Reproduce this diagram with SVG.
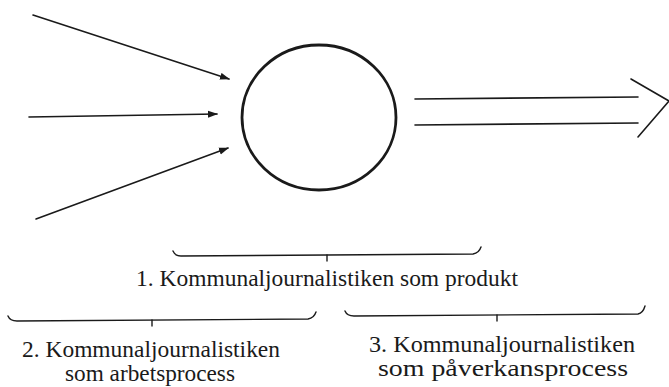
<svg xmlns="http://www.w3.org/2000/svg" width="669" height="387" viewBox="0 0 669 387">
<style>
.ln{fill:none;stroke:#1a1a1a;stroke-width:1.6;stroke-linecap:round;stroke-linejoin:round}
.br{fill:none;stroke:#1a1a1a;stroke-width:1.4;stroke-linecap:round}
.t{font-family:"Liberation Serif","Times New Roman",serif;font-size:23px;fill:#1a1a1a;text-anchor:middle}
</style>
<defs>
<marker id="ah" markerWidth="10" markerHeight="8" refX="9" refY="4" orient="auto" markerUnits="userSpaceOnUse">
<path d="M0,0.5 L10,4 L0,7.5 z" fill="#1a1a1a"/>
</marker>
</defs>
<rect width="669" height="387" fill="#ffffff"/>
<g id="connectors">
<line class="ln" x1="33" y1="15" x2="229" y2="79" marker-end="url(#ah)"/>
<line class="ln" x1="29" y1="117" x2="217" y2="114" marker-end="url(#ah)"/>
<line class="ln" x1="36" y1="219" x2="228" y2="148" marker-end="url(#ah)"/>
<line class="ln" x1="415" y1="99" x2="638" y2="97"/>
<line class="ln" x1="415" y1="125" x2="638" y2="123"/>
<polyline class="ln" points="631,79 669,101 638,137"/>
</g>
<g id="process">
<ellipse cx="319" cy="117.5" rx="77" ry="72.5" fill="none" stroke="#1a1a1a" stroke-width="2.8"/>
</g>
<g id="produkt">
<path class="br" d="M173,251 Q175,256 181,256 L473,254 Q479,253 481,247"/>
<path class="br" d="M327,255 L327,261"/>
<text class="t" x="327" y="286" textLength="382" lengthAdjust="spacingAndGlyphs">1. Kommunaljournalistiken som produkt</text>
</g>
<g id="arbetsprocess">
<path class="br" d="M8,316 Q10,321 17,321 L308,319 Q314,318 316,312"/>
<path class="br" d="M152,320 L152,326"/>
<text class="t" x="151" y="357" textLength="258" lengthAdjust="spacingAndGlyphs">2. Kommunaljournalistiken</text>
<text class="t" x="150" y="381" textLength="170" lengthAdjust="spacingAndGlyphs">som arbetsprocess</text>
</g>
<g id="paverkansprocess">
<path class="br" d="M345,311 Q347,316 354,316 L638,314 Q643,313 645,306"/>
<path class="br" d="M497,315 L497,321"/>
<text class="t" x="502" y="352" textLength="266" lengthAdjust="spacingAndGlyphs">3. Kommunaljournalistiken</text>
<text class="t" x="503" y="376" textLength="250" lengthAdjust="spacingAndGlyphs">som påverkansprocess</text>
</g>
</svg>
